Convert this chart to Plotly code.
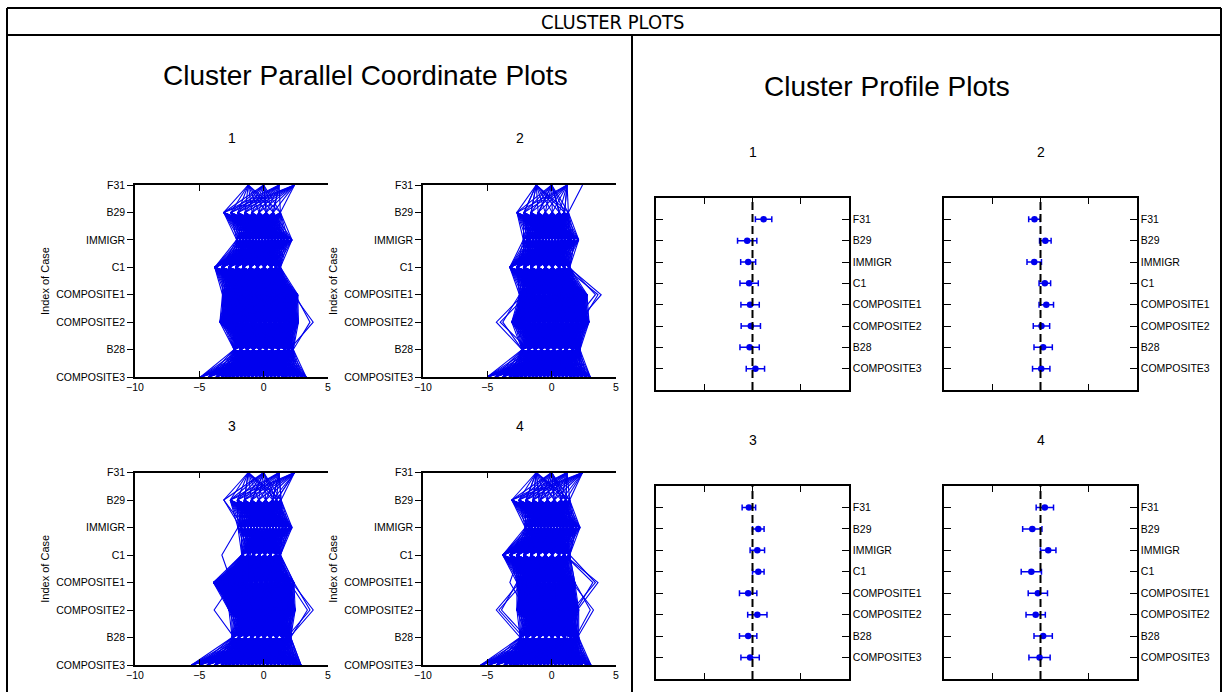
import plotly.graph_objects as go

W, H = 1224, 692

VARIABLES = ["F31", "B29", "IMMIGR", "C1", "COMPOSITE1", "COMPOSITE2", "B28", "COMPOSITE3"]
CLUSTER_IDS = ["1", "2", "3", "4"]
PCP_X_TICKS = [-10, -5, 0, 5]

# ---- Parallel coordinate plots: observed standardized values per variable (cluster 1..4) ----
PCP1_LEVELS = [
    [-1.2, 0.0, 1.2, 2.4],
    [-3.1, -2.55, -2.0, -1.45, -0.9, -0.35, 0.2, 0.75, 1.3],
    [-2.1, -1.85, -1.6, -1.35, -1.1, -0.85, -0.6, -0.35, -0.1, 0.15, 0.4, 0.65, 0.9, 1.15, 1.4, 1.65, 1.9, 2.2],
    [-3.8, -3.25, -2.7, -2.15, -1.6, -1.05, -0.5, 0.05, 0.6, 1.0, 1.3],
    [-3.2, -3.0, -2.8, -2.6, -2.4, -2.2, -2.0, -1.8, -1.6, -1.4, -1.2, -1.0, -0.8, -0.6, -0.4, -0.2, 0.0, 0.2, 0.4, 0.6, 0.8, 1.0, 1.2, 1.4, 1.6, 1.8, 2.0, 2.2, 2.45, 2.65],
    [-3.4, -3.2, -3.0, -2.8, -2.6, -2.4, -2.2, -2.0, -1.8, -1.6, -1.4, -1.2, -1.0, -0.8, -0.6, -0.4, -0.2, 0.0, 0.2, 0.4, 0.6, 0.8, 1.0, 1.2, 1.4, 1.6, 1.8, 2.0, 2.2, 2.4, 2.55, 2.7],
    [-2.3, -1.8, -1.3, -0.8, -0.3, 0.2, 0.7, 1.2, 1.7, 2.0, 2.3],
    [-4.9, -4.3, -3.7, -3.3, -3.0, -2.7, -2.4, -2.1, -1.8, -1.5, -1.2, -0.9, -0.6, -0.3, 0.0, 0.3, 0.6, 0.9, 1.2, 1.5, 1.8, 2.1, 2.4, 2.7, 3.0, 3.3],
]
PCP1_CASES = [
    [1.2, 0.75, 1.5, 0.6, 2.3, 3.85, 2.0, 1.6],
    [0.0, 0.2, 1.1, 1.0, 2.45, 3.6, 2.3, 2.4],
]

PCP2_LEVELS = [
    [-1.2, 0.0, 1.2],
    [-2.7, -2.15, -1.6, -1.05, -0.5, 0.05, 0.6, 1.0, 1.3],
    [-2.2, -1.95, -1.7, -1.45, -1.2, -0.95, -0.7, -0.45, -0.2, 0.05, 0.3, 0.55, 0.8, 1.05, 1.3, 1.55, 1.8, 2.1],
    [-3.25, -2.7, -2.15, -1.6, -1.05, -0.5, 0.05, 0.6, 1.0, 1.4],
    [-2.5, -2.3, -2.1, -1.9, -1.7, -1.5, -1.3, -1.1, -0.9, -0.7, -0.5, -0.3, -0.1, 0.1, 0.3, 0.5, 0.7, 0.9, 1.1, 1.3, 1.5, 1.7, 1.9, 2.1, 2.3, 2.55, 2.75],
    [-3.1, -2.9, -2.7, -2.5, -2.3, -2.1, -1.9, -1.7, -1.5, -1.3, -1.1, -0.9, -0.7, -0.5, -0.3, -0.1, 0.1, 0.3, 0.5, 0.7, 0.9, 1.1, 1.3, 1.5, 1.7, 1.9, 2.1, 2.3, 2.5, 2.7, 2.9],
    [-2.3, -1.8, -1.3, -0.8, -0.3, 0.2, 0.7, 1.2, 1.7, 2.0, 2.2],
    [-5.0, -4.4, -3.8, -3.3, -3.0, -2.7, -2.4, -2.1, -1.8, -1.5, -1.2, -0.9, -0.6, -0.3, 0.0, 0.3, 0.6, 0.9, 1.2, 1.5, 1.8, 2.1, 2.4, 2.7, 3.0],
]
PCP2_CASES = [
    [2.4, 1.3, 1.4, 0.6, 1.2, 0.8, 1.0, 1.2],
    [0.0, 0.6, 1.4, 1.3, 3.85, 2.0, 1.7, 2.0],
    [1.2, 1.0, 1.0, 1.0, 3.6, 2.3, 2.0, 2.4],
    [0.0, 0.6, 1.8, 1.4, 3.4, 1.7, 1.2, 1.6],
    [-1.2, -1.6, -1.4, -2.2, -2.2, -4.3, -2.3, -2.8],
    [0.0, -1.0, -1.0, -1.6, -1.9, -4.0, -1.8, -2.4],
    [-1.2, -2.15, -1.8, -2.7, -2.5, -3.8, -2.3, -3.3],
]

PCP3_LEVELS = [
    [-1.2, 0.0, 1.2, 2.4],
    [-2.6, -2.05, -1.5, -0.95, -0.4, 0.15, 0.7, 1.0, 1.35],
    [-2.0, -1.75, -1.5, -1.25, -1.0, -0.75, -0.5, -0.25, 0.0, 0.25, 0.5, 0.75, 1.0, 1.25, 1.5, 1.75, 2.0, 2.2],
    [-1.7, -1.25, -0.8, -0.35, 0.1, 0.55, 1.0, 1.3],
    [-3.9, -3.7, -3.5, -3.3, -3.1, -2.9, -2.7, -2.5, -2.3, -2.1, -1.9, -1.7, -1.5, -1.3, -1.1, -0.9, -0.7, -0.5, -0.3, -0.1, 0.1, 0.3, 0.5, 0.7, 0.9, 1.1, 1.3, 1.5, 1.7, 1.9, 2.1, 2.35],
    [-2.7, -2.5, -2.3, -2.1, -1.9, -1.7, -1.5, -1.3, -1.1, -0.9, -0.7, -0.5, -0.3, -0.1, 0.1, 0.3, 0.5, 0.7, 0.9, 1.1, 1.3, 1.5, 1.7, 1.9, 2.1, 2.3, 2.45],
    [-2.45, -1.95, -1.45, -0.95, -0.45, 0.05, 0.55, 1.05, 1.55, 1.85, 2.1],
    [-5.6, -5.0, -4.4, -3.8, -3.3, -3.0, -2.7, -2.4, -2.1, -1.8, -1.5, -1.2, -0.9, -0.6, -0.3, 0.0, 0.3, 0.6, 0.9, 1.2, 1.5, 1.8, 2.1, 2.4, 2.7, 2.9],
]
PCP3_CASES = [
    [-1.2, -3.1, -1.5, -1.0, -1.5, -1.0, -1.0, -1.0],
    [0.0, -3.1, -1.8, -1.2, -1.2, -1.5, -0.8, -1.5],
    [-1.2, -1.5, -2.0, -3.25, -2.5, -2.2, -1.5, -2.0],
    [0.0, -0.9, -1.0, -1.2, -2.4, -3.85, -2.3, -2.6],
    [1.2, 0.7, 1.6, 1.0, 2.2, 3.85, 2.0, 2.5],
    [2.4, 1.0, 2.0, 1.3, 2.35, 3.6, 1.8, 2.2],
    [1.2, 1.35, 1.2, 0.5, 2.0, 3.4, 2.1, 2.9],
]

PCP4_LEVELS = [
    [-1.2, 0.0, 1.2, 2.4],
    [-3.1, -2.55, -2.0, -1.45, -0.9, -0.35, 0.2, 0.75, 1.1, 1.4],
    [-2.05, -1.8, -1.55, -1.3, -1.05, -0.8, -0.55, -0.3, -0.05, 0.2, 0.45, 0.7, 0.95, 1.2, 1.45, 1.7, 1.95, 2.2],
    [-3.8, -3.25, -2.7, -2.15, -1.6, -1.05, -0.5, 0.05, 0.6, 1.0, 1.4],
    [-2.7, -2.5, -2.3, -2.1, -1.9, -1.7, -1.5, -1.3, -1.1, -0.9, -0.7, -0.5, -0.3, -0.1, 0.1, 0.3, 0.5, 0.7, 0.9, 1.1, 1.3, 1.5, 1.65, 1.8],
    [-2.7, -2.5, -2.3, -2.1, -1.9, -1.7, -1.5, -1.3, -1.1, -0.9, -0.7, -0.5, -0.3, -0.1, 0.1, 0.3, 0.5, 0.7, 0.9, 1.1, 1.3, 1.5, 1.7, 1.9, 2.1],
    [-2.45, -1.95, -1.45, -0.95, -0.45, 0.05, 0.55, 1.05, 1.55, 1.85, 2.1],
    [-5.5, -4.9, -4.3, -3.7, -3.3, -3.0, -2.7, -2.4, -2.1, -1.8, -1.5, -1.2, -0.9, -0.6, -0.3, 0.0, 0.3, 0.6, 0.9, 1.2, 1.5, 1.8, 2.1, 2.4, 2.8, 3.05],
]
PCP4_CASES = [
    [0.0, 0.2, 0.8, 1.0, 3.6, 2.0, 1.5, 2.0],
    [1.2, 0.75, 1.2, 1.4, 3.4, 1.6, 1.2, 1.5],
    [0.0, 1.1, 1.55, 1.0, 3.2, 1.9, 1.7, 2.4],
    [-1.2, -1.0, -1.0, -2.5, -3.25, -2.0, -1.5, -2.0],
    [-1.2, -1.45, -1.5, -1.6, -2.5, -4.3, -2.45, -3.0],
    [0.0, -0.9, -1.25, -2.15, -2.2, -4.1, -2.2, -3.5],
    [-1.2, -2.0, -1.65, -2.7, -2.7, -3.9, -1.95, -2.8],
    [1.2, 1.1, 1.55, 1.0, 1.6, 3.25, 2.0, 2.6],
    [0.0, 0.75, 1.9, 1.4, 1.8, 3.0, 1.85, 2.2],
]

# ---- Cluster profile plots: mean and error half-width per variable ----
PROF1_MEAN = [0.23, -0.11, -0.09, -0.07, -0.05, -0.035, -0.06, 0.06]
PROF1_ERR = [0.17, 0.20, 0.155, 0.19, 0.19, 0.20, 0.20, 0.19]
PROF2_MEAN = [-0.125, 0.10, -0.13, 0.09, 0.12, 0.02, 0.055, 0.015]
PROF2_ERR = [0.12, 0.12, 0.15, 0.12, 0.15, 0.17, 0.19, 0.18]
PROF3_MEAN = [-0.075, 0.12, 0.10, 0.12, -0.09, 0.10, -0.09, -0.05]
PROF3_ERR = [0.14, 0.12, 0.15, 0.12, 0.18, 0.20, 0.18, 0.19]
PROF4_MEAN = [0.09, -0.17, 0.16, -0.19, -0.055, -0.10, 0.055, -0.02]
PROF4_ERR = [0.18, 0.20, 0.16, 0.21, 0.20, 0.20, 0.19, 0.22]

PCP_LEVELS = [PCP1_LEVELS, PCP2_LEVELS, PCP3_LEVELS, PCP4_LEVELS]
PCP_CASES = [PCP1_CASES, PCP2_CASES, PCP3_CASES, PCP4_CASES]
PROF_MEANS = [PROF1_MEAN, PROF2_MEAN, PROF3_MEAN, PROF4_MEAN]
PROF_ERRS = [PROF1_ERR, PROF2_ERR, PROF3_ERR, PROF4_ERR]

BLUE = "#0000ee"
FONT = "Liberation Sans, Arial, sans-serif"


def xd(a, b):
    return [a / W, b / W]


def yd(top, bottom):
    return [1 - bottom / H, 1 - top / H]


def px(x):
    return x / W


def py(y):
    return 1 - y / H


# pixel boxes (left, right, top, bottom)
PCP_BOX = [(135, 328, 185, 377), (423, 616, 185, 377), (135, 328, 472.5, 665), (423, 616, 472.5, 665)]
PROF_BOX = [(656, 849, 198, 390), (944, 1137, 198, 390), (656, 849, 486, 679), (944, 1137, 486, 679)]

fig = go.Figure()
yidx = list(range(len(VARIABLES)))

for k in range(4):
    xs, ys = [], []
    levels = PCP_LEVELS[k]
    for i in range(len(VARIABLES) - 1):
        for a in levels[i]:
            for b in levels[i + 1]:
                xs += [a, b, None]
                ys += [i, i + 1, None]
    for case in PCP_CASES[k]:
        xs += list(case) + [None]
        ys += yidx + [None]
    n = k + 1
    fig.add_trace(go.Scatter(x=xs, y=ys, mode="lines", line=dict(color=BLUE, width=1.1),
                             xaxis=f"x{n}", yaxis=f"y{n}", hoverinfo="skip", showlegend=False))

for k in range(4):
    n = k + 5
    fig.add_trace(go.Scatter(
        x=PROF_MEANS[k], y=yidx, mode="markers",
        marker=dict(color=BLUE, size=6.5),
        error_x=dict(type="data", array=PROF_ERRS[k], color=BLUE, thickness=1.5, width=3),
        xaxis=f"x{n}", yaxis=f"y{n}", showlegend=False))

layout = dict(
    width=W, height=H, margin=dict(l=0, r=0, t=0, b=0, autoexpand=False),
    paper_bgcolor="white", plot_bgcolor="white", showlegend=False,
    font=dict(family=FONT, size=11, color="black"),
)

tickfont = dict(family=FONT, size=10.5, color="black")
for k in range(4):
    n = k + 1
    l, r, t, b = PCP_BOX[k]
    layout[f"xaxis{n}"] = dict(
        domain=xd(l, r), anchor=f"y{n}", range=[-10, 5], tickvals=PCP_X_TICKS,
        ticks="inside", ticklen=6, tickwidth=1.2, tickcolor="black",
        showline=True, linecolor="black", linewidth=1.5, mirror="ticks",
        showgrid=False, zeroline=False, tickfont=tickfont)
    layout[f"yaxis{n}"] = dict(
        domain=yd(t, b), anchor=f"x{n}", range=[7, 0], tickvals=yidx, ticktext=VARIABLES,
        ticks="outside", ticklen=6, tickwidth=1.2, tickcolor="black",
        showline=True, linecolor="black", linewidth=1.5, mirror=False,
        showgrid=False, zeroline=False, tickfont=tickfont)
    layout[f"yaxis{n + 8}"] = dict(
        overlaying=f"y{n}", anchor=f"x{n}", side="right", range=[7, 0], tickvals=yidx,
        showticklabels=False, ticks="inside", ticklen=6, tickwidth=1.2, tickcolor="black",
        showline=True, linecolor="black", linewidth=1.5, showgrid=False, zeroline=False)

for k in range(4):
    n = k + 5
    l, r, t, b = PROF_BOX[k]
    layout[f"xaxis{n}"] = dict(
        domain=xd(l, r), anchor=f"y{n}", range=[-2, 2], tickvals=[-1, 0, 1],
        showticklabels=False, ticks="inside", ticklen=6, tickwidth=1.2, tickcolor="black",
        showline=True, linecolor="black", linewidth=1.5, mirror="ticks",
        showgrid=False, zeroline=False)
    layout[f"yaxis{n}"] = dict(
        domain=yd(t, b), anchor=f"x{n}", range=[8, -1], tickvals=yidx, ticktext=VARIABLES,
        side="right", ticks="inside", ticklen=7, tickwidth=1.2, tickcolor="black",
        showline=True, linecolor="black", linewidth=1.5, mirror="ticks",
        showgrid=False, zeroline=False, tickfont=tickfont)

fig.update_layout(**layout)

shapes = []
frame = dict(type="line", xref="paper", yref="paper", line=dict(color="black", width=2))
shapes.append(dict(frame, x0=px(7), x1=px(1221), y0=py(8), y1=py(8)))
shapes.append(dict(frame, x0=px(7), x1=px(1221), y0=py(35), y1=py(35)))
shapes.append(dict(frame, x0=px(7), x1=px(7), y0=py(8), y1=py(700)))
shapes.append(dict(frame, x0=px(1221), x1=px(1221), y0=py(8), y1=py(700)))
shapes.append(dict(frame, x0=px(632), x1=px(632), y0=py(35), y1=py(700)))
for k in range(4):
    n = k + 5
    shapes.append(dict(type="line", xref=f"x{n}", yref=f"y{n} domain", x0=0, x1=0, y0=0, y1=1,
                       line=dict(color="black", width=2, dash="8px,4px")))
fig.update_layout(shapes=shapes)


def label(text, x, y, size, family=FONT, angle=0):
    return dict(text=text, x=px(x), y=py(y), xref="paper", yref="paper",
                xanchor="center", yanchor="middle", textangle=angle, showarrow=False,
                font=dict(family=family, size=size, color="black"))


ann = []
ann.append(label("CLUSTER PLOTS", 613, 22, 20, "DejaVu Sans Condensed, DejaVu Sans"))
ann.append(label("Cluster Parallel Coordinate Plots", 365, 75, 28))
ann.append(label("Cluster Profile Plots", 887, 87, 28))
for k in range(4):
    l, r, t, b = PCP_BOX[k]
    ann.append(label(CLUSTER_IDS[k], (l + r) / 2, t - 47, 14))
    ann.append(label("Index of Case", l - 90, (t + b) / 2, 11, angle=-90))
for k in range(4):
    l, r, t, b = PROF_BOX[k]
    ann.append(label(CLUSTER_IDS[k], (l + r) / 2, t - 46, 14))
fig.update_layout(annotations=ann)

fig.write_html("out.html")
